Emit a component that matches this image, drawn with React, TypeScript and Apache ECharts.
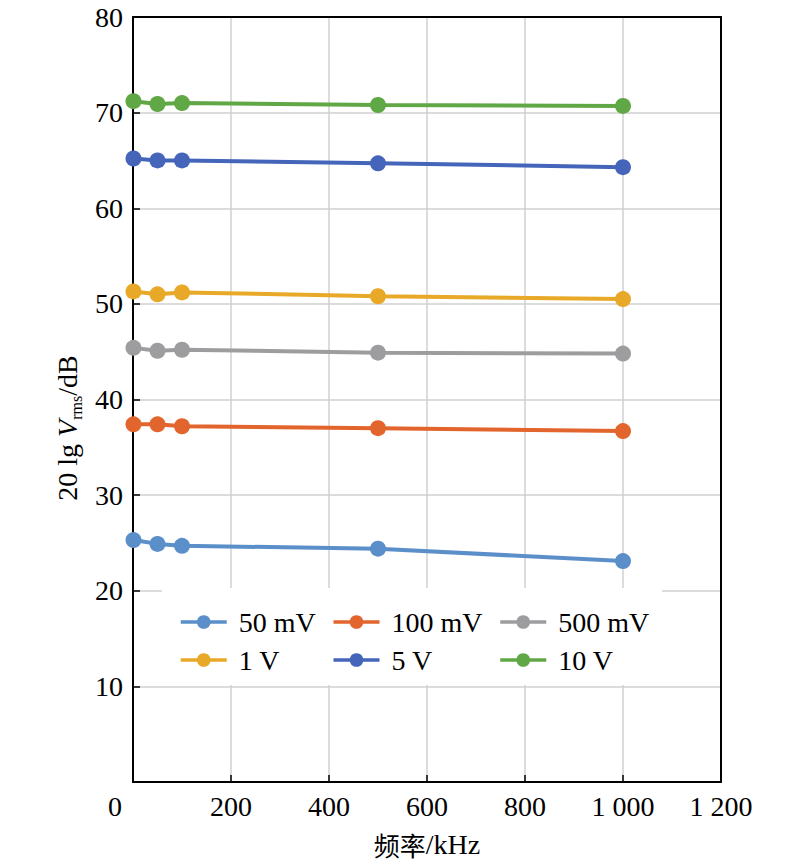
import React, { useEffect, useRef } from 'react';
import * as echarts from 'echarts';

const freqKHz = [1, 50, 100, 500, 1000];
const seriesNames = ['50 mV', '100 mV', '500 mV', '1 V', '5 V', '10 V'];
const v50mV = [25.3, 24.9, 24.7, 24.4, 23.1];
const v100mV = [37.4, 37.4, 37.2, 37.0, 36.7];
const v500mV = [45.4, 45.1, 45.2, 44.9, 44.8];
const v1V = [51.3, 51.0, 51.2, 50.8, 50.5];
const v5V = [65.2, 65.0, 65.0, 64.7, 64.3];
const v10V = [71.2, 70.9, 71.0, 70.8, 70.7];
const seriesValues = [v50mV, v100mV, v500mV, v1V, v5V, v10V];
const seriesColors = ['#5b8fc9', '#e2652d', '#9d9d9f', '#e8a828', '#4465b9', '#60a745'];

const SERIF = '"Liberation Serif", "Times New Roman", serif';
const CJK = '"Noto Sans CJK SC", sans-serif';
const FS = 28;

function fmtX(v: number): string {
  if (v === 0) return '{z|0}';
  if (v >= 1000) {
    const s = String(v);
    return s.slice(0, s.length - 3) + ' ' + s.slice(s.length - 3);
  }
  return String(v);
}

export default function App() {
  const ref = useRef<HTMLDivElement>(null);
  useEffect(() => {
    document.body.style.margin = '0';
    const chart = echarts.init(ref.current!, null, { renderer: 'svg' });
    const labelStyle = { fontFamily: SERIF, fontSize: FS, color: '#000' };
    const option: any = {
      animation: false,
      backgroundColor: '#fff',
      grid: { left: 133, right: 79, top: 17, bottom: 82 },
      xAxis: [
        {
          type: 'value',
          min: 0,
          max: 1200,
          interval: 200,
          name: '{c|频率}{t|/kHz}',
          nameLocation: 'middle',
          nameGap: 48,
          nameTextStyle: {
            rich: {
              c: { fontFamily: CJK, fontSize: 26, color: '#000' },
              t: { fontFamily: SERIF, fontSize: FS, color: '#000' },
            },
          },
          axisLine: { show: true, onZero: false, lineStyle: { color: '#000', width: 2 } },
          axisTick: { show: true, inside: true, length: 7, lineStyle: { color: '#000', width: 1.5 } },
          axisLabel: {
            ...labelStyle,
            margin: 10,
            formatter: fmtX,
            rich: { z: { ...labelStyle, padding: [0, 36, 0, 0] } },
          },
          splitLine: { show: true, lineStyle: { color: '#d0d0d0', width: 1.5 } },
        },
        {
          type: 'value',
          position: 'top',
          min: 0,
          max: 1200,
          interval: 200,
          axisLine: { show: true, onZero: false, lineStyle: { color: '#000', width: 2 } },
          axisTick: { show: false },
          axisLabel: { show: false },
          splitLine: { show: false },
        },
      ],
      yAxis: [
        {
          type: 'value',
          min: 0,
          max: 80,
          interval: 10,
          axisLine: { show: true, onZero: false, lineStyle: { color: '#000', width: 2 } },
          axisTick: { show: true, inside: true, length: 7, lineStyle: { color: '#000', width: 1.5 } },
          axisLabel: { ...labelStyle, margin: 10, showMinLabel: false },
          splitLine: { show: true, lineStyle: { color: '#d0d0d0', width: 1.5 } },
        },
        {
          type: 'value',
          position: 'right',
          min: 0,
          max: 80,
          interval: 10,
          axisLine: { show: true, onZero: false, lineStyle: { color: '#000', width: 2 } },
          axisTick: { show: false },
          axisLabel: { show: false },
          splitLine: { show: false },
        },
      ],
      legend: {
        data: seriesNames,
        left: 179,
        top: 608,
        width: 480,
        itemWidth: 46,
        itemHeight: 17,
        itemGap: 10,
        padding: 0,
        lineStyle: { width: 3.5 },
        formatter: (name: string) => {
          const idx = seriesNames.indexOf(name);
          const col = idx % 3;
          return `{${['a', 'b', 'c'][col]}|${name}}`;
        },
        textStyle: {
          ...labelStyle,
          lineHeight: 28,
          rich: {
            a: { ...labelStyle, width: 83, padding: [0, 0, 0, 7], lineHeight: 28 },
            b: { ...labelStyle, width: 97, padding: [0, 0, 0, 7], lineHeight: 28 },
            c: { ...labelStyle, width: 97, padding: [0, 0, 0, 7], lineHeight: 28 },
          },
        },
      },
      graphic: {
        elements: [
          {
            type: 'rect',
            z: 3,
            shape: { x: 162, y: 588, width: 500, height: 97 },
            style: { fill: '#fff' },
          },
          {
            type: 'text',
            x: 67,
            y: 428,
            rotation: Math.PI / 2,
            z: 10,
            style: {
              text: '{n|20 lg }{i|V}{s|rms}{n|/dB}',
              align: 'center',
              verticalAlign: 'middle',
              rich: {
                n: { fontFamily: SERIF, fontSize: FS, fill: '#000', lineHeight: 34 },
                i: { fontFamily: SERIF, fontSize: FS, fontStyle: 'italic', fill: '#000', lineHeight: 34 },
                s: { fontFamily: SERIF, fontSize: 16, fill: '#000', lineHeight: 17, verticalAlign: 'bottom' },
              },
            },
          },
        ],
      },
      series: seriesNames.map((name, k) => ({
        name,
        type: 'line',
        data: freqKHz.map((x, i) => [x, seriesValues[k][i]]),
        symbol: 'circle',
        symbolSize: 16,
        lineStyle: { width: 4, color: seriesColors[k] },
        itemStyle: { color: seriesColors[k] },
        z: 5,
      })),
    };
    chart.setOption(option);
    return () => chart.dispose();
  }, []);
  return <div ref={ref} style={{ width: 800, height: 864 }} />;
}
